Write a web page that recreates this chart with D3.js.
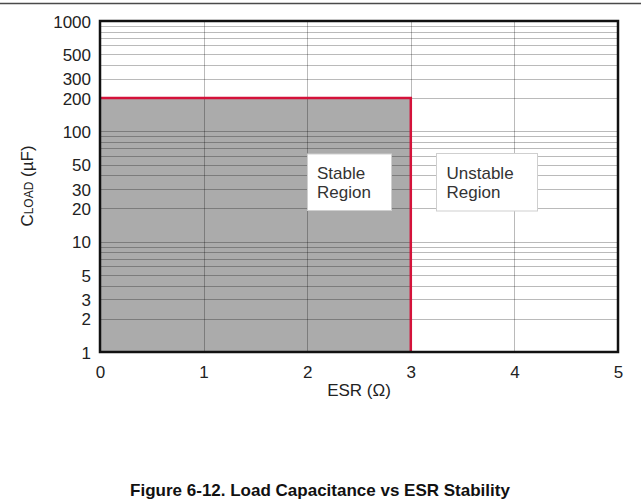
<!DOCTYPE html>
<html>
<head>
<meta charset="utf-8">
<script src="https://cdn.jsdelivr.net/npm/d3@7"></script>
<style>
  html, body { margin: 0; padding: 0; background: #fff; }
  svg { display: block; font-family: "Liberation Sans", Arial, sans-serif; }
</style>
</head>
<body>
<svg id="chart" width="641" height="501"></svg>
<script>
// ---- data ----
const xTicks = [0, 1, 2, 3, 4, 5];
const yTickLabels = [1, 2, 3, 5, 10, 20, 30, 50, 100, 200, 300, 500, 1000];
const stableBoundary = [
  { esr: 0, c: 200 },
  { esr: 3, c: 200 },
  { esr: 3, c: 1 }
];
const regionLabels = [
  { lines: ["Stable", "Region"] },
  { lines: ["Unstable", "Region"] }
];
const xTitle = "ESR (\u03A9)";
const caption = "Figure 6-12. Load Capacitance vs ESR Stability";

// ---- layout ----
const svg = d3.select("#chart");
const L = 100, R = 618, T = 21, B = 352;
const x = d3.scaleLinear().domain([0, 5]).range([L, R]);
const y = d3.scaleLog().domain([1, 1000]).range([B, T]);

// top rule
svg.append("line").attr("x1", 0).attr("x2", 641).attr("y1", 3.5).attr("y2", 3.5)
  .attr("stroke", "#4a4a4a").attr("stroke-width", 1.5);

// stable region fill
const area = d3.area().x(d => x(d.esr)).y0(B).y1(d => y(d.c));
svg.append("path")
  .datum(stableBoundary.slice(0, 2))
  .attr("d", area)
  .attr("fill", "#ababab");

// grid
const gridColor = "rgba(0,0,0,0.27)";
svg.append("g")
  .selectAll("line").data(y.ticks())
  .join("line")
  .attr("x1", L).attr("x2", R)
  .attr("y1", d => Math.round(y(d)) + 0.5).attr("y2", d => Math.round(y(d)) + 0.5)
  .attr("stroke", gridColor).attr("stroke-width", 1);
svg.append("g")
  .selectAll("line").data(xTicks.filter(d => d > 0 && d < 5))
  .join("line")
  .attr("x1", d => Math.round(x(d)) + 0.5).attr("x2", d => Math.round(x(d)) + 0.5)
  .attr("y1", T).attr("y2", B)
  .attr("stroke", gridColor).attr("stroke-width", 1);

// boundary
svg.append("path")
  .datum(stableBoundary)
  .attr("d", d3.line().x(d => x(d.esr)).y(d => y(d.c)))
  .attr("fill", "none").attr("stroke", "#d4123a").attr("stroke-width", 2.5);

// region label boxes
const boxes = [
  { x0: 307.5, y0: 154, x1: 391.5, y1: 210.5, tx: 317, ty: 179 },
  { x0: 436.5, y0: 153.5, x1: 537.5, y1: 211, tx: 446.5, ty: 179 }
];
regionLabels.forEach((r, i) => {
  const b = boxes[i];
  svg.append("rect").attr("x", b.x0).attr("y", b.y0)
    .attr("width", b.x1 - b.x0).attr("height", b.y1 - b.y0)
    .attr("fill", "#fff").attr("stroke", "#cfcfcf").attr("stroke-width", 1);
  const t = svg.append("text").attr("x", b.tx).attr("y", b.ty)
    .attr("font-size", 17).attr("fill", "#333");
  r.lines.forEach((ln, j) => {
    t.append("tspan").attr("x", b.tx).attr("dy", j === 0 ? 0 : 19).text(ln);
  });
});

// frame
svg.append("rect").attr("x", L).attr("y", T).attr("width", R - L).attr("height", B - T)
  .attr("fill", "none").attr("stroke", "#111").attr("stroke-width", 2.5);

// axes
const xAxis = d3.axisBottom(x).tickValues(xTicks).tickFormat(d3.format("d")).tickSize(0).tickPadding(0);
const gx = svg.append("g").attr("transform", `translate(0,${B})`).call(xAxis);
gx.select(".domain").remove();
gx.selectAll("text").attr("font-size", 17).attr("fill", "#222")
  .attr("font-family", null).attr("y", 26).attr("dy", 0);

const yAxis = d3.axisLeft(y).tickValues(yTickLabels).tickFormat(d3.format("d")).tickSize(0).tickPadding(0);
const gy = svg.append("g").attr("transform", `translate(91,0)`).call(yAxis);
gy.select(".domain").remove();
gy.selectAll("text").attr("font-size", 17).attr("fill", "#222")
  .attr("font-family", null).attr("x", 0).attr("dy", "0.36em");

// axis titles
svg.append("text").attr("x", (L + R) / 2).attr("y", 396)
  .attr("text-anchor", "middle").attr("font-size", 17).attr("fill", "#222")
  .text(xTitle);

const yt = svg.append("text")
  .attr("transform", "translate(33,186) rotate(-90)")
  .attr("text-anchor", "middle").attr("fill", "#222").attr("font-size", 17);
yt.append("tspan").text("C");
yt.append("tspan").attr("font-size", 12).text("LOAD");
yt.append("tspan").text(" (\u00B5F)");

// caption
svg.append("text").attr("x", 320).attr("y", 496)
  .attr("text-anchor", "middle").attr("font-size", 17).attr("font-weight", "bold")
  .attr("fill", "#111").text(caption);
</script>
</body>
</html>
